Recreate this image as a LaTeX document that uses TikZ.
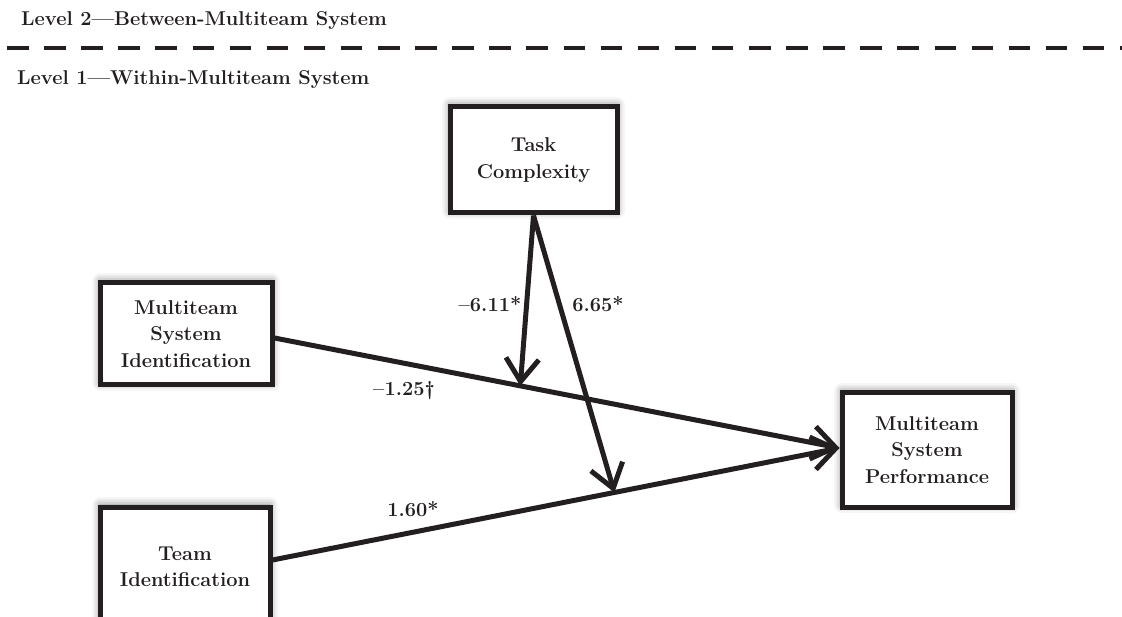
\documentclass[tikz,border=0pt]{standalone}
\usepackage{fontspec}
\usetikzlibrary{arrows.meta,shadows.blur,calc}
\definecolor{ink}{HTML}{231F20}
\tikzset{
  txt/.style={font=\bfseries\fontsize{20}{26.5}\selectfont, text=ink},
  box/.style={txt, draw=ink, line width=5pt, fill=white, align=center, inner sep=0pt,
    blur shadow={shadow xshift=0pt, shadow yshift=2pt, shadow blur radius=8pt, shadow opacity=55}},
  conn/.style={draw=ink, line width=5pt,
    -{Straight Barb[length=23pt, width=33pt, line width=5pt]}},
  lbl/.style={txt, inner sep=0pt}
}
\begin{document}
\begin{tikzpicture}[x=1pt, y=-1pt]
\useasboundingbox (0,0) rectangle (1122,617);
% level headers
\node[txt, anchor=base west, inner sep=0pt] (lev2) at (21,26) {Level 2---Between-Multiteam System};
\node[txt, anchor=base west, inner sep=0pt] (lev1) at (17,85) {Level 1---Within-Multiteam System};
\draw[draw=ink, line width=4.8pt, dash pattern=on 21.5pt off 15.6pt] (7,48) -- (1130,48);
% boxes
\node[box, minimum width=167pt, minimum height=106pt] (tc) at (533.5,160) {Task\\Complexity};
\node[box, minimum width=172pt, minimum height=102pt] (msi) at (186,334) {Multiteam\\System\\Identification};
\node[box, minimum width=170pt, minimum height=120pt] (team) at (185,567) {\raisebox{7pt}{\parbox{160pt}{\centering Team\\Identification}}};
\node[box, minimum width=170pt, minimum height=114pt] (msp) at (927,450) {Multiteam\\System\\Performance};
% main paths
\draw[conn] ([yshift=-4pt]msi.east) -- ([yshift=2pt]msp.west)
  coordinate[pos=0.435] (m1);
\draw[conn] ([yshift=7pt]team.east) -- ([yshift=2pt]msp.west)
  coordinate[pos=0.603] (m2);
% moderation arrows
\draw[conn] (tc.south) -- (m1);
\draw[conn] (tc.south) -- (m2);
% labels
\node[lbl] (l1) at (490,304) {--6.11*};
\node[lbl] (l2) at (598,304) {6.65*};
\node[lbl] (l3) at (404,391) {--1.25\textdagger};
\node[lbl] (l4) at (413,509) {1.60*};
\end{tikzpicture}
\end{document}
